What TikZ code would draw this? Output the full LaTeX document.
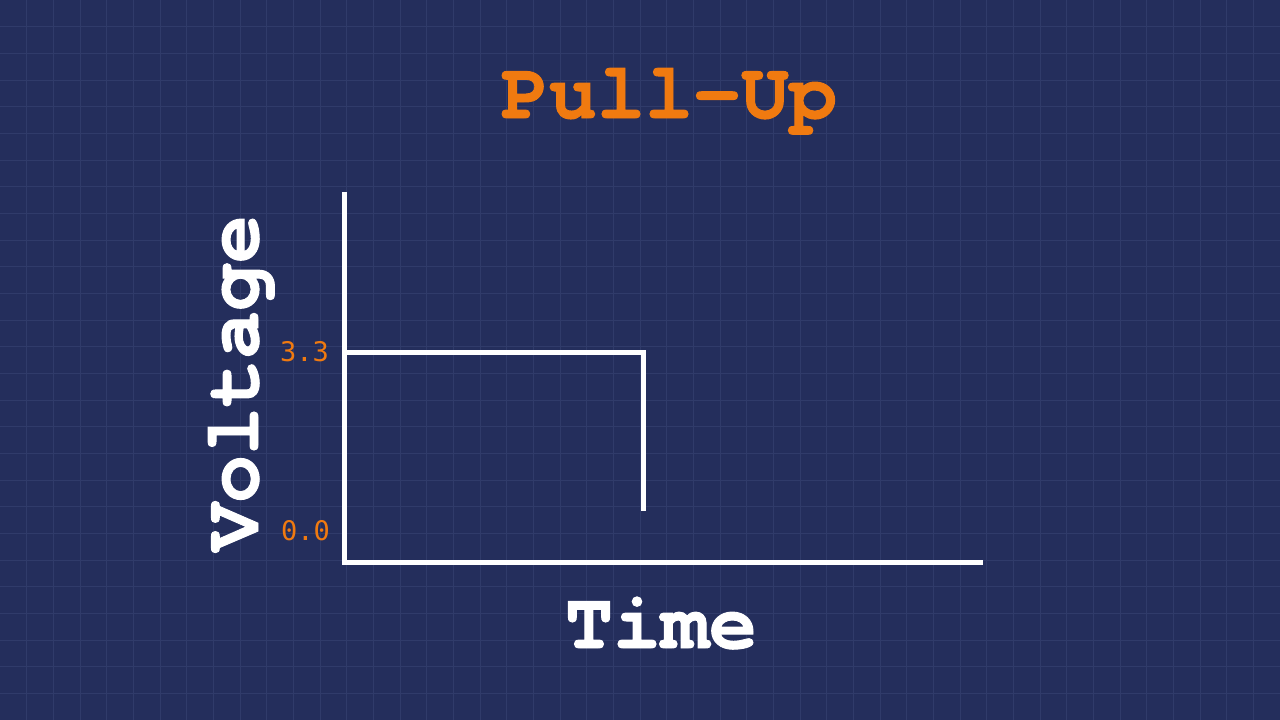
\documentclass[tikz,border=0pt]{standalone}
\usepackage{fontspec}
\newfontfamily\cursorfont{texgyrecursor}[Extension=.otf,UprightFont=*-regular,BoldFont=*-bold,BoldFeatures={FakeBold=1.2}]
\newfontfamily\ticksfont{DejaVu Sans Mono}
\definecolor{bgblue}{RGB}{36,46,92}
\definecolor{gridblue}{RGB}{48,59,106}
\definecolor{titleorange}{RGB}{240,122,16}
\begin{document}
\begin{tikzpicture}[x=1pt,y=-1pt,
  bigtext/.style={inner sep=0pt,font=\cursorfont\bfseries\fontsize{80}{90}\selectfont},
  ticklabel/.style={inner sep=0pt,text=titleorange,font=\ticksfont\fontsize{27}{30}\selectfont},
  axisline/.style={white,line width=5pt},
  gridline/.style={gridblue,line width=0.8pt}]
\fill[bgblue] (0,0) rectangle (1280,720);
\useasboundingbox (0,0) rectangle (1280,720);
\foreach \i in {1,...,47} {\draw[gridline] (\i*26.6667,0) -- (\i*26.6667,720);}
\foreach \j in {1,...,26} {\draw[gridline] (0,\j*26.6667) -- (1280,\j*26.6667);}
\node[bigtext,text=titleorange,anchor=base] (title) at (669,118) {Pull-Up};
\node[bigtext,text=white,anchor=base] (time) at (661,648) {Time};
\node[bigtext,text=white,anchor=base,rotate=90] (volt) at (258,383) {Voltage};
\node[ticklabel,anchor=east] (t33) at (329,352) {3.3};
\node[ticklabel,anchor=east] (t00) at (330,531) {0.0};
\coordinate (ytop) at (344,192);
\coordinate (origin) at (344,562);
\coordinate (xend) at (983,562);
\coordinate (s0) at (346,352);
\coordinate (s1) at (643,352);
\coordinate (s2) at (643,511);
\draw[axisline] (ytop) -- (origin) -- (xend);
\draw[axisline] (s0) -- (s1) -- (s2);
\end{tikzpicture}
\end{document}
